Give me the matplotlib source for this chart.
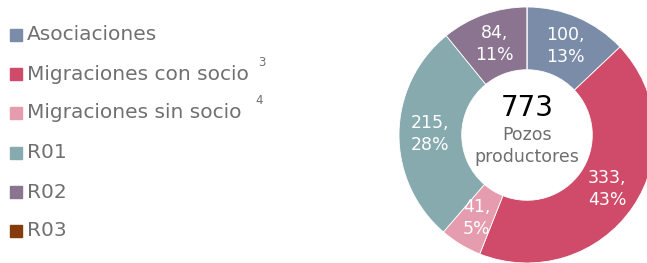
import matplotlib
matplotlib.use("Agg")
import matplotlib.pyplot as plt
from matplotlib.patches import Rectangle
import numpy as np

plt.rcParams['font.family'] = ['DejaVu Sans']

# chart data
categories = ["Asociaciones", "Migraciones con socio", "Migraciones sin socio", "R01", "R02", "R03"]
superscripts = ["", "3", "4", "", "", ""]
values = [100, 333, 41, 215, 84, 0]
percents = [13, 43, 5, 28, 11, 0]
colors = ["#7A8CA8", "#D04A6A", "#E69CAF", "#86AAAE", "#8A7490", "#843C0C"]
total_label = "773"
center_label = "Pozos\nproductores"

W, H = 647, 263
fig = plt.figure(figsize=(W / 100, H / 100), dpi=100)

# donut: center at (527, 135) px from top, outer radius 128 px
cx, cy, r = 527, 135, 128
ax = fig.add_axes([(cx - r) / W, (H - cy - r) / H, 2 * r / W, 2 * r / H])
wedges, _ = ax.pie(values, colors=colors, startangle=90, counterclock=False,
                   radius=1, wedgeprops=dict(width=0.49, linewidth=0.6, edgecolor="white"))
ax.set_xlim(-1, 1)
ax.set_ylim(-1, 1)
ax.set_aspect("equal")
ax.axis("off")

# slice labels
tot = sum(values)
start = 90.0
for v, p in zip(values, percents):
    if v == 0:
        continue
    span = 360.0 * v / tot
    mid = np.deg2rad(start - span / 2)
    start -= span
    rr = 0.755
    ax.text(rr * np.cos(mid), rr * np.sin(mid), f"{v},\n{p}%", color="white",
            ha="center", va="center", fontsize=12.5, linespacing=1.3)

ax.text(0, 0.21, total_label, ha="center", va="center", fontsize=20, color="black")
ax.text(0, -0.085, center_label, ha="center", va="center", fontsize=12.5,
        color="#6E6E6E", linespacing=1.3)

# legend
row_y = [35, 74, 113, 153, 192, 231]
sup_gap = [0, 9, 14, 0, 0, 0]
for name, sup, col, y, gap in zip(categories, superscripts, colors, row_y, sup_gap):
    fig.patches.append(Rectangle((10 / W, (H - y - 6) / H), 12 / W, 12 / H,
                                 transform=fig.transFigure, color=col))
    t = fig.text(27 / W, (H - y) / H, name, ha="left", va="center",
                 fontsize=14.5, color="#707070")
    if sup:
        fig.canvas.draw()
        bb = t.get_window_extent()
        fig.text((bb.x1 + gap) / W, (H - y + 12) / H, sup, ha="left", va="center",
                 fontsize=8.5, color="#707070")

fig.savefig("out.png", dpi=100)
